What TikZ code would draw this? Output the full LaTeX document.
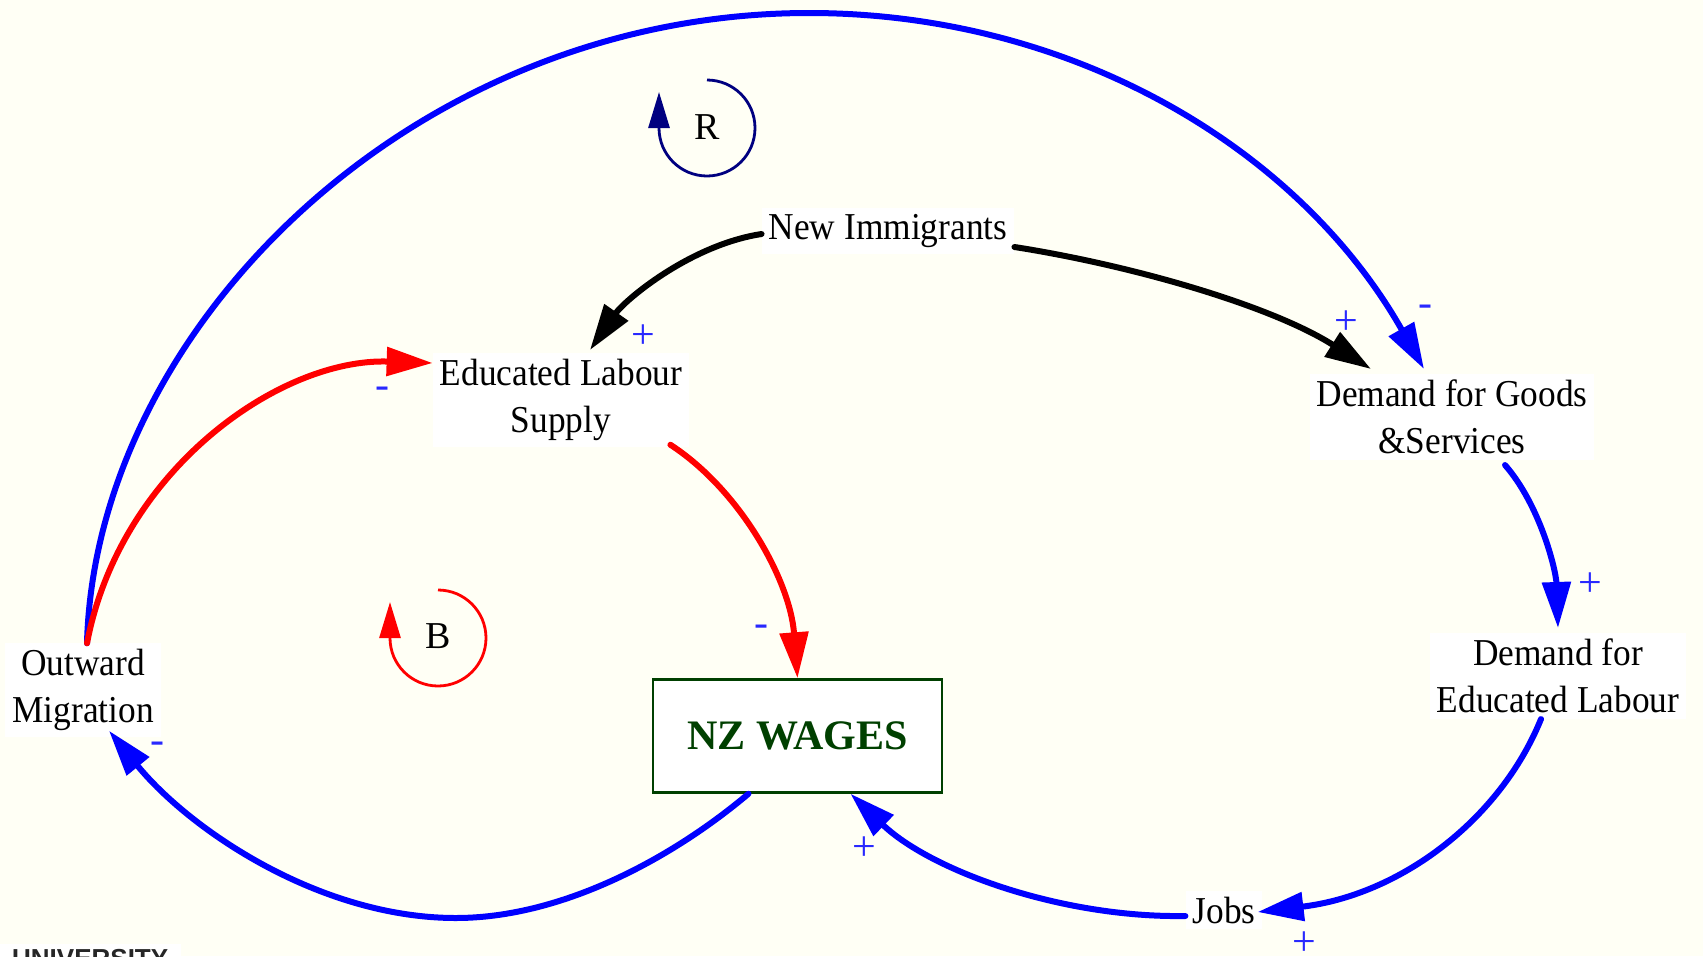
\documentclass[tikz,border=0pt]{standalone}
\usepackage{fontspec}
\setmainfont[FakeStretch=0.93]{Liberation Serif}
\newfontfamily\unifont{Liberation Sans}
\newfontfamily\plainserif{Liberation Serif}
\usetikzlibrary{arrows.meta,calc}
\definecolor{bgcol}{RGB}{255,255,245}
\definecolor{navyc}{RGB}{0,0,128}
\definecolor{wagegreen}{RGB}{0,64,0}
\definecolor{signblue}{RGB}{40,40,255}
\definecolor{conblue}{RGB}{0,0,255}
\definecolor{conred}{RGB}{255,0,0}
\begin{document}
\begin{tikzpicture}[x=1pt,y=-1pt,
  lbl/.style={fill=white, align=center, inner xsep=7pt, inner ysep=6pt, font=\fontsize{38}{46.5}\selectfont},
  conn/.style={line width=6pt, line cap=round, -{Triangle[length=46pt,width=28pt]}},
  loopline/.style={line width=2.8pt, -{Triangle[length=36pt,width=21pt]}},
  sign/.style={text=signblue, inner sep=0pt, font=\plainserif\fontsize{42}{42}\selectfont},
  looplbl/.style={inner sep=0pt, font=\plainserif\fontsize{38}{38}\selectfont}
]
\useasboundingbox (0,0) rectangle (1703,956);
\fill[bgcol] (0,0) rectangle (1703,956);

% bottom-left cut logo fragment
\fill[white] (0,944) rectangle (181,956);
\begin{scope}
\clip (0,940) rectangle (200,956);
\node[anchor=base west, inner sep=0pt, text=black!85, font=\unifont\bfseries\fontsize{26}{26}\selectfont] (logo) at (12,967) {UNIVERSITY};
\end{scope}

% nodes
\node[lbl] (ni) at (888,231) {New Immigrants};
\node[lbl] (els) at (561,400) {Educated Labour\\Supply};
\node[lbl] (dgs) at (1452,417) {Demand for Goods\\\&Services};
\node[lbl] (del) at (1558,676) {Demand for\\Educated Labour};
\node[lbl] (jobs) at (1224,910) {Jobs};
\node[lbl] (om) at (83,690) {Outward\\Migration};
\node[draw=wagegreen, line width=2.5pt, fill=white, minimum width=289pt, minimum height=113pt,
      text=wagegreen, font=\plainserif\bfseries\fontsize{42}{42}\selectfont] (nzw) at (797.5,736) {NZ WAGES};

% loops
\draw[loopline, navyc] (707,80) arc[start angle=-90, end angle=180, radius=48] -- ++(0,-36);
\node[looplbl] (rl) at (707,127) {R};
\draw[loopline, conred] (438,590) arc[start angle=-90, end angle=180, radius=48] -- ++(0,-36);
\node[looplbl] (bl) at (438,636) {B};

% connectors
\draw[conn, black] ([yshift=-3pt]ni.west) .. controls (690,245) and (625,300) .. (590,350);
\draw[conn, black] ([yshift=-16pt]ni.east) .. controls (1130,265) and (1270,305) .. (1371,369);
\draw[conn, conblue] ([xshift=4pt]om.north) .. controls (95,330) and (411,13) .. (809,13)
   .. controls (1074,13) and (1300,150) .. (1424,369);
\draw[conn, conred] ([xshift=4pt]om.north) .. controls (120,470) and (280,358) .. ([yshift=37pt]els.west);
\draw[conn, conred] ([xshift=-19pt,yshift=2pt]els.south east) .. controls (740,490) and (790,580) .. (nzw.north);
\draw[conn, conblue] ([xshift=53pt,yshift=-5pt]dgs.south) .. controls (1540,505) and (1556,570) .. ([yshift=5pt]del.north);
\draw[conn, conblue] ([xshift=-17pt]del.south) .. controls (1500,820) and (1400,895) .. ([xshift=-5pt,yshift=-2pt]jobs.east);
\draw[conn, conblue] ([yshift=-6pt]jobs.west) .. controls (1060,918) and (930,870) .. ([xshift=53pt]nzw.south);
\draw[conn, conblue] ([xshift=-49pt]nzw.south) .. controls (670,860) and (560,918) .. (456,918)
   .. controls (320,918) and (190,830) .. ([xshift=26pt,yshift=6pt]om.south);

% signs
\node[sign] (s1) at (643,337) {+};
\node[sign] (s2) at (1346,323) {+};
\node[sign] (s3) at (1425,311) {-};
\node[sign] (s4) at (382,393) {-};
\node[sign] (s5) at (761,631) {-};
\node[sign] (s6) at (1590,585) {+};
\node[sign] (s7) at (1304,944) {+};
\node[sign] (s8) at (864,849) {+};
\node[sign] (s9) at (157,748) {-};
\end{tikzpicture}
\end{document}
